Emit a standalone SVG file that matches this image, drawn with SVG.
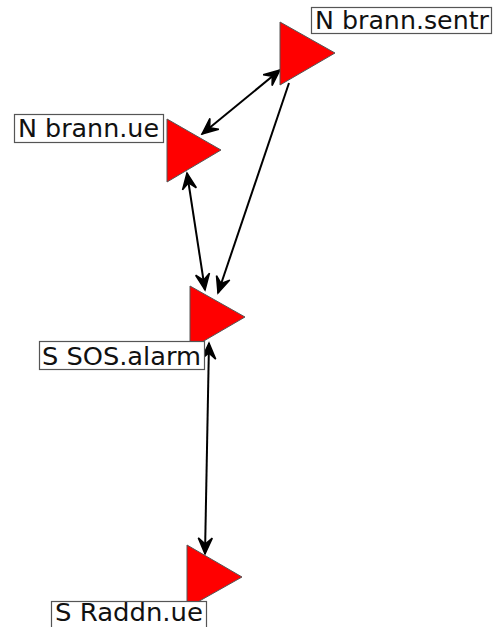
<svg xmlns="http://www.w3.org/2000/svg" width="493" height="627" viewBox="0 0 493 627">
<style>
.tri{fill:#ff0000;stroke:#555555;stroke-width:1}
.lbl{fill:#ffffff;stroke:#555555;stroke-width:1.2}
.txt{font-family:"DejaVu Sans",sans-serif;font-size:25px;fill:#111111}
.edge{stroke:#000000;stroke-width:2;fill:none}
</style>
<defs>
<marker id="arr" viewBox="-18 -9 20 18" refX="0" refY="0" markerWidth="20" markerHeight="18" markerUnits="userSpaceOnUse" orient="auto-start-reverse">
<path d="M0,0 L-16,-7 L-10,0 L-16,7 Z" fill="#000000" stroke="#000000" stroke-width="1.5" stroke-linejoin="miter"/>
</marker>
</defs>
<g id="connectors">
<line class="edge" x1="280" y1="70" x2="202" y2="134" marker-start="url(#arr)" marker-end="url(#arr)"/>
<line class="edge" x1="187" y1="173" x2="205" y2="290" marker-start="url(#arr)" marker-end="url(#arr)"/>
<line class="edge" x1="289" y1="83" x2="218" y2="293" marker-end="url(#arr)"/>
<line class="edge" x1="209" y1="343" x2="205" y2="554" marker-start="url(#arr)" marker-end="url(#arr)"/>
</g>
<g id="brann_sentr">
<polygon class="tri" points="280,22 280,85 335,53"/>
<rect class="lbl" x="311.5" y="7.5" width="180" height="26"/>
<text class="txt" x="315" y="29" textLength="174" lengthAdjust="spacingAndGlyphs">N brann.sentr</text>
</g>
<g id="brann_ue">
<polygon class="tri" points="167,119 167,182 221,150"/>
<rect class="lbl" x="14.5" y="114.5" width="149" height="28"/>
<text class="txt" x="18" y="137" textLength="141" lengthAdjust="spacingAndGlyphs">N brann.ue</text>
</g>
<g id="sos_alarm">
<polygon class="tri" points="190,286 190,349 245,317"/>
<rect class="lbl" x="39.5" y="341.5" width="165" height="28"/>
<text class="txt" x="42" y="364.5" textLength="159" lengthAdjust="spacingAndGlyphs">S SOS.alarm</text>
</g>
<g id="raddn_ue">
<polygon class="tri" points="187,545 187,608 242,577"/>
<rect class="lbl" x="51.5" y="601.5" width="155" height="30"/>
<text class="txt" x="55" y="621" textLength="148" lengthAdjust="spacingAndGlyphs">S Raddn.ue</text>
</g>
</svg>
